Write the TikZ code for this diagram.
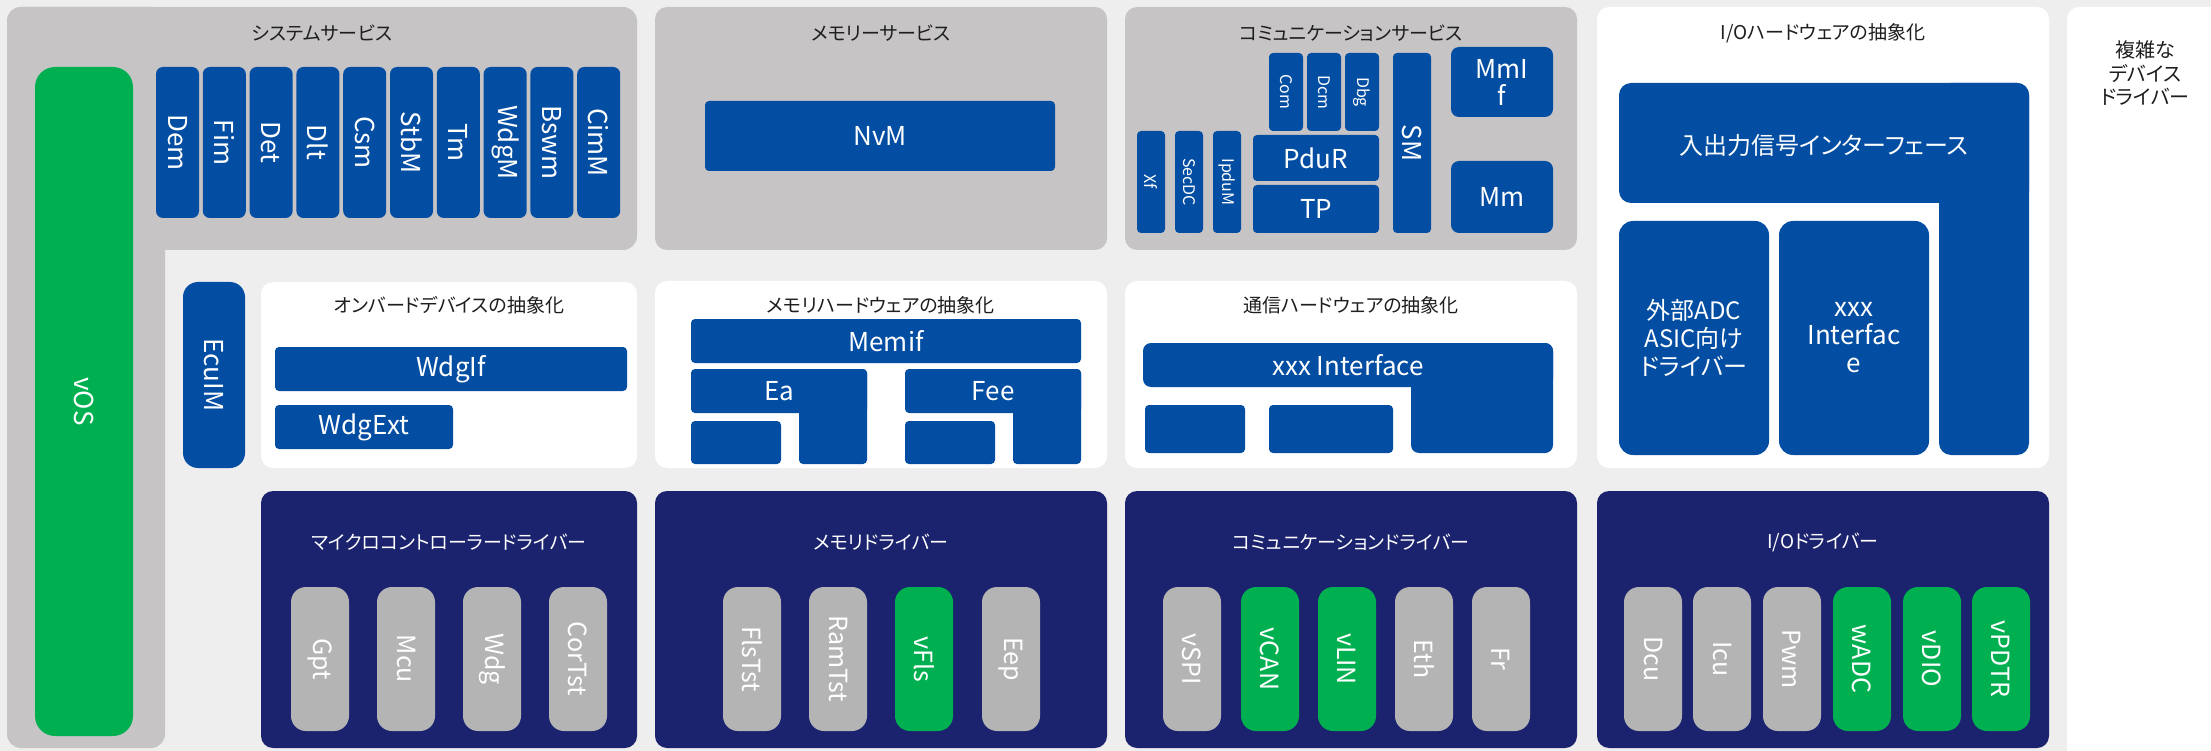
\documentclass[tikz,border=0pt]{standalone}
\usepackage{fontspec}
\setmainfont{Noto Sans CJK JP}[RawFeature=+palt]
\usepackage{xcolor}

\definecolor{bggray}{HTML}{EEEEEE}
\definecolor{svcgray}{HTML}{C6C4C5}
\definecolor{modblue}{HTML}{034EA2}
\definecolor{drvnavy}{HTML}{1B236E}
\definecolor{pillgray}{HTML}{B4B4B4}
\definecolor{vgreen}{HTML}{00B050}
\definecolor{txtdark}{HTML}{1E1E1E}

\begin{document}
\begin{tikzpicture}[x=1pt,y=-1pt,
    panel/.style={rectangle,rounded corners=12pt,inner sep=0pt},
    blk/.style={rectangle,fill=modblue,text=white,rounded corners=4pt,inner sep=1pt,font=\fontsize{26pt}{30pt}\selectfont},
    vblk/.style={blk,rotate=-90},
    sblk/.style={vblk,font=\fontsize{16pt}{18pt}\selectfont},
    wtxt/.style={text=white,inner sep=1pt,font=\fontsize{26pt}{30pt}\selectfont},
    pill/.style={rectangle,fill=pillgray,text=white,rounded corners=15pt,rotate=-90,minimum width=144pt,minimum height=58pt,inner sep=1pt,font=\fontsize{25pt}{30pt}\selectfont},
    vpill/.style={pill,fill=vgreen},
    ttl/.style={text=txtdark,inner sep=1pt,font=\fontsize{19pt}{23pt}\selectfont},
    wttl/.style={ttl,text=white}]
    \useasboundingbox (0,0) rectangle (2211,751);
    \fill[bggray] (0,0) rectangle (2211,751);

    % Complex device drivers
    \fill[white,rounded corners=12pt] (2067,7) rectangle (2260,800);
    \node[ttl,align=center,font=\fontsize{20pt}{23.5pt}\selectfont] (cdd) at (2145,73) {複雑な\\デバイス\\ドライバー};

    % System services
    \fill[svcgray,rounded corners=14pt] (7,7) rectangle (637,250);
    \fill[svcgray,rounded corners=14pt] (7,7) rectangle (165,748);
    \node[ttl] (syssvc) at (322,33) {システムサービス};
    \node[blk,fill=vgreen,rotate=-90,rounded corners=20pt,minimum width=669pt,minimum height=98pt] (vos) at (84,401.5) {vOS};
    \node[vblk,rounded corners=7pt,minimum width=151pt,minimum height=43pt] (dem) at (177.5,142.5) {Dem};
    \node[vblk,rounded corners=7pt,minimum width=151pt,minimum height=43pt] (fim) at (224.3,142.5) {Fim};
    \node[vblk,rounded corners=7pt,minimum width=151pt,minimum height=43pt] (det) at (271.1,142.5) {Det};
    \node[vblk,rounded corners=7pt,minimum width=151pt,minimum height=43pt] (dlt) at (317.9,142.5) {Dlt};
    \node[vblk,rounded corners=7pt,minimum width=151pt,minimum height=43pt] (csm) at (364.7,142.5) {Csm};
    \node[vblk,rounded corners=7pt,minimum width=151pt,minimum height=43pt] (stbm) at (411.5,142.5) {StbM};
    \node[vblk,rounded corners=7pt,minimum width=151pt,minimum height=43pt] (tm) at (458.3,142.5) {Tm};
    \node[vblk,rounded corners=7pt,minimum width=151pt,minimum height=43pt] (wdgm) at (505.1,142.5) {WdgM};
    \node[vblk,rounded corners=7pt,minimum width=151pt,minimum height=43pt] (bswm) at (551.9,142.5) {Bswm};
    \node[vblk,rounded corners=7pt,minimum width=151pt,minimum height=43pt] (cimm) at (598.7,142.5) {CimM};

    % Memory services
    \node[panel,fill=svcgray,minimum width=452pt,minimum height=243pt] (memsvc) at (881,128.5) {};
    \node[ttl] (memsvcttl) at (881,33) {メモリーサービス};
    \node[blk,minimum width=350pt,minimum height=70pt] (nvm) at (880,136) {NvM};

    % Communication services
    \node[panel,fill=svcgray,minimum width=452pt,minimum height=243pt] (comsvc) at (1351,128.5) {};
    \node[ttl] (comsvcttl) at (1351,33) {コミュニケーションサービス};
    \node[sblk,minimum width=78pt,minimum height=34pt] (com) at (1286,92) {Com};
    \node[sblk,minimum width=78pt,minimum height=34pt] (dcm) at (1324,92) {Dcm};
    \node[sblk,minimum width=78pt,minimum height=34pt] (dbg) at (1362,92) {Dbg};
    \node[sblk,minimum width=102pt,minimum height=28pt] (xf) at (1151,182) {Xf};
    \node[sblk,minimum width=102pt,minimum height=28pt] (secdc) at (1189,182) {SecDC};
    \node[sblk,minimum width=102pt,minimum height=28pt] (ipdum) at (1227,182) {IpduM};
    \node[blk,minimum width=126pt,minimum height=46pt] (pdur) at (1316,158) {PduR};
    \node[blk,minimum width=126pt,minimum height=48pt] (tp) at (1316,209) {TP};
    \node[vblk,minimum width=180pt,minimum height=38pt] (sm) at (1412,143) {SM};
    \node[blk,rounded corners=8pt,align=center,minimum width=102pt,minimum height=70pt] (mmif) at (1502,82) {MmI\\[-3pt]f};
    \node[blk,rounded corners=8pt,minimum width=102pt,minimum height=72pt] (mm) at (1502,197) {Mm};

    % I/O hardware abstraction
    \node[panel,fill=white,minimum width=452pt,minimum height=461pt] (ioabs) at (1823,237.5) {};
    \node[ttl] (ioabsttl) at (1823,33) {I/Oハードウェアの抽象化};
    \fill[modblue,rounded corners=12pt] (1619,83) rectangle (2029,203);
    \fill[modblue,rounded corners=12pt] (1939,83) rectangle (2029,455);
    \node[wtxt,font=\fontsize{24pt}{28pt}\selectfont] (iosig) at (1824,145) {入出力信号インターフェース};
    \node[blk,rounded corners=14pt,align=center,minimum width=150pt,minimum height=234pt,font=\fontsize{24pt}{28pt}\selectfont] (extadc) at (1694,338) {外部ADC\\ASIC向け\\ドライバー};
    \node[blk,rounded corners=14pt,align=center,minimum width=150pt,minimum height=234pt,font=\fontsize{26pt}{28pt}\selectfont] (xxxio) at (1854,338) {xxx\\Interfac\\e};

    % ECU manager
    \node[vblk,rounded corners=15pt,minimum width=186pt,minimum height=62pt] (ecum) at (214,375) {EcuIM};

    % Onboard device abstraction
    \node[panel,fill=white,minimum width=376pt,minimum height=186pt] (onboard) at (449,375) {};
    \node[ttl] (onboardttl) at (449,305) {オンバードデバイスの抽象化};
    \node[blk,minimum width=352pt,minimum height=44pt] (wdgif) at (451,369) {WdgIf};
    \node[blk,minimum width=178pt,minimum height=44pt] (wdgext) at (364,427) {WdgExt};

    % Memory hardware abstraction
    \node[panel,fill=white,minimum width=452pt,minimum height=187pt] (memabs) at (881,374.5) {};
    \node[ttl] (memabsttl) at (881,305) {メモリハードウェアの抽象化};
    \node[blk,minimum width=390pt,minimum height=44pt] (memif) at (886,341) {Memif};
    \fill[modblue,rounded corners=4pt] (691,369) rectangle (867,413);
    \fill[modblue,rounded corners=4pt] (799,369) rectangle (867,464);
    \node[wtxt] (ea) at (779,391) {Ea};
    \node[blk,minimum width=90pt,minimum height=43pt] (easub) at (736,442.5) {};
    \fill[modblue,rounded corners=4pt] (905,369) rectangle (1081,413);
    \fill[modblue,rounded corners=4pt] (1013,369) rectangle (1081,464);
    \node[wtxt] (fee) at (993,391) {Fee};
    \node[blk,minimum width=90pt,minimum height=43pt] (feesub) at (950,442.5) {};

    % Communication hardware abstraction
    \node[panel,fill=white,minimum width=452pt,minimum height=187pt] (comabs) at (1351,374.5) {};
    \node[ttl] (comabsttl) at (1351,305) {通信ハードウェアの抽象化};
    \fill[modblue,rounded corners=8pt] (1143,343) rectangle (1553,387);
    \fill[modblue,rounded corners=8pt] (1411,343) rectangle (1553,453);
    \node[wtxt] (xxxcom) at (1348,365) {xxx Interface};
    \node[blk,minimum width=100pt,minimum height=48pt] (comsub1) at (1195,429) {};
    \node[blk,minimum width=124pt,minimum height=48pt] (comsub2) at (1331,429) {};

    % Microcontroller drivers
    \node[panel,fill=drvnavy,minimum width=376pt,minimum height=257pt] (mcudrv) at (449,619.5) {};
    \node[wttl] (mcudrvttl) at (449,542) {マイクロコントローラードライバー};
    \node[pill] (gpt) at (320,659) {Gpt};
    \node[pill] (mcu) at (406,659) {Mcu};
    \node[pill] (wdg) at (492,659) {Wdg};
    \node[pill] (cortst) at (578,659) {CorTst};

    % Memory drivers
    \node[panel,fill=drvnavy,minimum width=452pt,minimum height=257pt] (memdrv) at (881,619.5) {};
    \node[wttl] (memdrvttl) at (881,542) {メモリドライバー};
    \node[pill] (flstst) at (752,659) {FlsTst};
    \node[pill] (ramtst) at (838,659) {RamTst};
    \node[vpill] (vfls) at (924,659) {vFls};
    \node[pill] (eep) at (1011,659) {Eep};

    % Communication drivers
    \node[panel,fill=drvnavy,minimum width=452pt,minimum height=257pt] (comdrv) at (1351,619.5) {};
    \node[wttl] (comdrvttl) at (1351,542) {コミュニケーションドライバー};
    \node[pill] (vspi) at (1192,659) {vSPI};
    \node[vpill] (vcan) at (1270,659) {vCAN};
    \node[vpill] (vlin) at (1347,659) {vLIN};
    \node[pill] (eth) at (1424,659) {Eth};
    \node[pill] (fr) at (1501,659) {Fr};

    % I/O drivers
    \node[panel,fill=drvnavy,minimum width=452pt,minimum height=257pt] (iodrv) at (1823,619.5) {};
    \node[wttl] (iodrvttl) at (1823,542) {I/Oドライバー};
    \node[pill] (dcu) at (1653,659) {Dcu};
    \node[pill] (icu) at (1722,659) {Icu};
    \node[pill] (pwm) at (1792,659) {Pwm};
    \node[vpill] (wadc) at (1862,659) {wADC};
    \node[vpill] (vdio) at (1932,659) {vDIO};
    \node[vpill] (vpdtr) at (2001,659) {vPDTR};
\end{tikzpicture}
\end{document}
